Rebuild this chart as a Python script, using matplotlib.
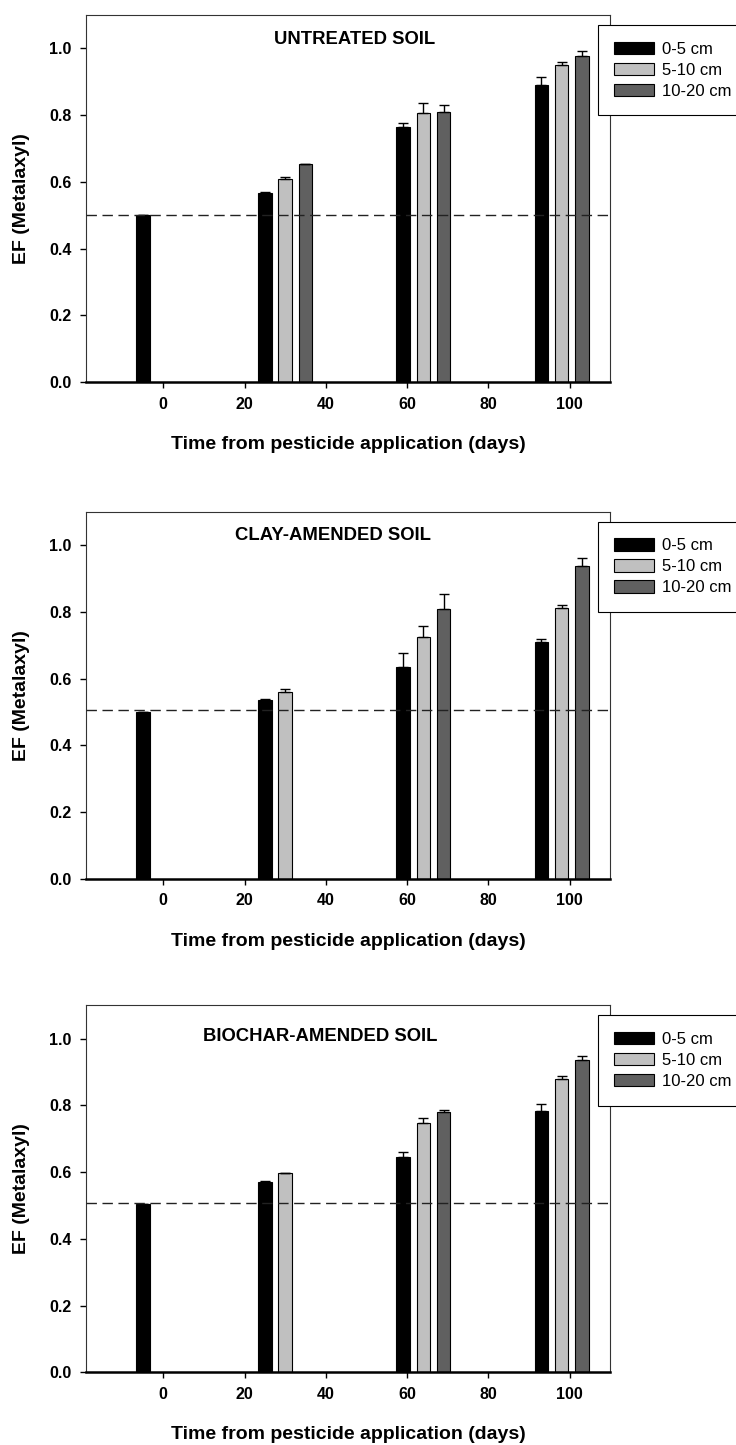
import numpy as np
import matplotlib
matplotlib.use('Agg')
import matplotlib.pyplot as plt

plt.rcParams['font.family'] = ['Liberation Sans', 'DejaVu Sans']

# sampling days (group centres) and depth layers
days = [0, 30, 64, 98]
depths = ['0-5 cm', '5-10 cm', '10-20 cm']
offsets = [-5, 0, 5]
colors = ['#000000', '#c0c0c0', '#606060']

titles = ['UNTREATED SOIL', 'CLAY-AMENDED SOIL', 'BIOCHAR-AMENDED SOIL']

# EF values, one list per depth, nan = no bar
untreated_0_5 = [0.500, 0.568, 0.763, 0.890]
untreated_5_10 = [np.nan, 0.610, 0.806, 0.950]
untreated_10_20 = [np.nan, 0.653, 0.809, 0.977]
untreated_err_0_5 = [0.0, 0.003, 0.013, 0.024]
untreated_err_5_10 = [0.0, 0.005, 0.029, 0.010]
untreated_err_10_20 = [0.0, 0.002, 0.021, 0.015]

clay_0_5 = [0.500, 0.537, 0.634, 0.710]
clay_5_10 = [np.nan, 0.559, 0.725, 0.812]
clay_10_20 = [np.nan, np.nan, 0.807, 0.936]
clay_err_0_5 = [0.0, 0.002, 0.042, 0.008]
clay_err_5_10 = [0.0, 0.011, 0.031, 0.008]
clay_err_10_20 = [0.0, 0.0, 0.045, 0.026]

biochar_0_5 = [0.505, 0.571, 0.645, 0.784]
biochar_5_10 = [np.nan, 0.596, 0.748, 0.880]
biochar_10_20 = [np.nan, np.nan, 0.779, 0.936]
biochar_err_0_5 = [0.0, 0.002, 0.015, 0.020]
biochar_err_5_10 = [0.0, 0.002, 0.015, 0.008]
biochar_err_10_20 = [0.0, 0.0, 0.008, 0.012]

ref_lines = [0.500, 0.507, 0.507]

panels = [
    ([untreated_0_5, untreated_5_10, untreated_10_20],
     [untreated_err_0_5, untreated_err_5_10, untreated_err_10_20]),
    ([clay_0_5, clay_5_10, clay_10_20],
     [clay_err_0_5, clay_err_5_10, clay_err_10_20]),
    ([biochar_0_5, biochar_5_10, biochar_10_20],
     [biochar_err_0_5, biochar_err_5_10, biochar_err_10_20]),
]

# axes placement (figure fraction) and title positions (axes fraction)
axes_bottoms = [0.7356, 0.3919, 0.0503]
title_pos = [(0.512, 0.933), (0.471, 0.935), (0.447, 0.915)]

fig = plt.figure(figsize=(7.36, 14.45), dpi=100)

for i, (vals, errs) in enumerate(panels):
    ax = fig.add_axes([0.1168, axes_bottoms[i], 0.7125, 0.254])
    for j in range(3):
        x = np.array(days, dtype=float) + offsets[j]
        y = np.array(vals[j], dtype=float)
        e = np.array(errs[j], dtype=float)
        keep = ~np.isnan(y)
        ax.bar(x[keep], y[keep], width=3.3, color=colors[j], edgecolor='black',
               linewidth=0.8, label=depths[j], zorder=3)
        ax.errorbar(x[keep], y[keep], yerr=[np.zeros(keep.sum()), e[keep]],
                    fmt='none', ecolor='black', elinewidth=1, capsize=3.5,
                    capthick=1, zorder=4)

    ax.axhline(ref_lines[i], color='#222222', linewidth=1, dashes=(7.5, 4), zorder=5)

    ax.set_xlim(-19, 110)
    ax.set_ylim(0, 1.1)
    ax.set_xticks([0, 20, 40, 60, 80, 100])
    ax.set_yticks([0.0, 0.2, 0.4, 0.6, 0.8, 1.0])
    ax.set_yticklabels(['0.0', '0.2', '0.4', '0.6', '0.8', '1.0'])
    ax.tick_params(direction='out', length=4.5, width=1, labelsize=11.5, pad=6)
    for lab in ax.get_xticklabels() + ax.get_yticklabels():
        lab.set_fontweight('bold')

    for side in ['left', 'top', 'right']:
        ax.spines[side].set_linewidth(0.8)
        ax.spines[side].set_color('#333333')
    ax.spines['bottom'].set_linewidth(1.8)
    ax.spines['bottom'].set_zorder(6)

    ax.set_xlabel('Time from pesticide application (days)', fontsize=14,
                  fontweight='bold')
    ax.xaxis.set_label_coords(0.5, -0.147)
    ax.set_ylabel('EF (Metalaxyl)', fontsize=14, fontweight='bold')
    ax.yaxis.set_label_coords(-0.106, 0.5)

    ax.text(title_pos[i][0], title_pos[i][1], titles[i], transform=ax.transAxes,
            ha='center', va='center', fontsize=13.3, fontweight='bold')

    leg = ax.legend(loc='upper left', bbox_to_anchor=(0.976, 0.973),
                    borderaxespad=0, fontsize=12, frameon=True, fancybox=False,
                    edgecolor='black', framealpha=1, borderpad=1.0,
                    handlelength=2.35, handleheight=0.75, handletextpad=0.5,
                    labelspacing=0.36)
    leg.get_frame().set_linewidth(0.8)

plt.savefig('out.png', dpi=100)
